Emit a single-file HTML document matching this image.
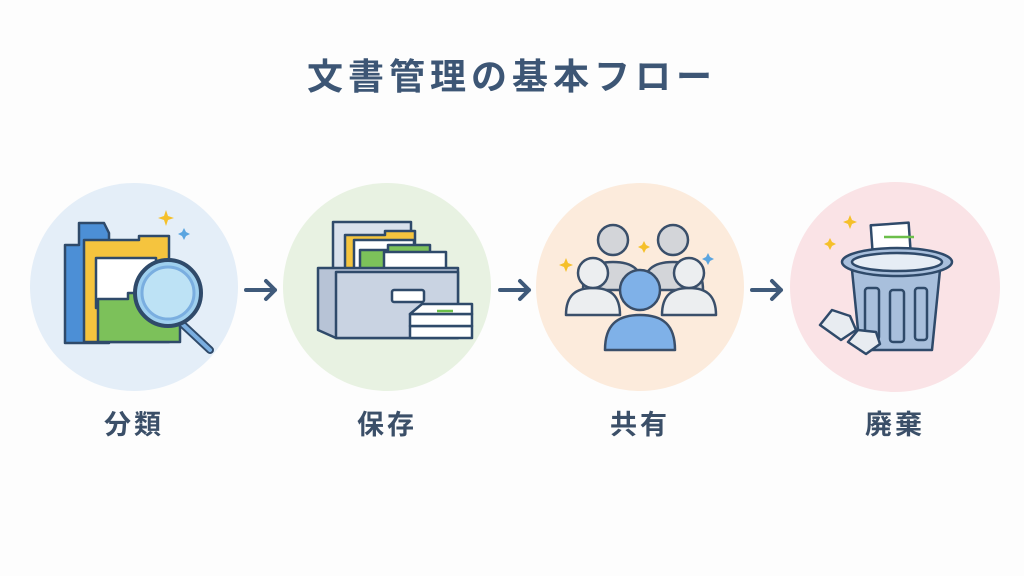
<!DOCTYPE html>
<html><head><meta charset="utf-8"><style>
html,body{margin:0;padding:0;background:#fdfdfd;}
svg{display:block}
text{font-family:"Liberation Sans","Noto Sans CJK JP",sans-serif;font-weight:bold;fill:#3b4f68}
</style></head><body>
<svg width="1024" height="576" viewBox="0 0 1024 576">
<rect width="1024" height="576" fill="#fdfdfd"/>
<text x="512" y="89" font-size="36" text-anchor="middle" letter-spacing="5" style="fill:#3d5675">文書管理の基本フロー</text>
<circle cx="134" cy="287" r="104" fill="#e4eef8"/>
<circle cx="387" cy="287" r="104" fill="#e8f2e2"/>
<circle cx="640" cy="287" r="104" fill="#fcebdc"/>
<circle cx="895" cy="287" r="105" fill="#fae3e6"/>
<g stroke="#3f5a7a" stroke-width="4" fill="none" stroke-linecap="round" stroke-linejoin="round">
<path d="M246 290H275M266 281l9 9-9 9"/>
<path d="M500 290H529M520 281l9 9-9 9"/>
<path d="M752 290H781M772 281l9 9-9 9"/>
</g>
<g stroke="#2f4a6a" stroke-width="2.5" stroke-linejoin="round">
<path d="M65 245h14v-22h25l5 10v110H65z" fill="#4c8fd6"/>
<path d="M84 250v-10h55v-4h30v106H84z" fill="#f5c43e"/>
<rect x="96" y="258" width="60" height="50" fill="#fff"/>
<path d="M98 342v-43h30v-6h52v49z" fill="#7cc15a"/>
<path d="M180 322l30 28" stroke-width="8" stroke-linecap="round"/>
<path d="M180 322l30 28" stroke="#7aaee0" stroke-width="4" stroke-linecap="round"/>
<circle cx="168" cy="293" r="33" fill="#9fd0ef" stroke-width="4"/>
<circle cx="168" cy="293" r="26" fill="#bde2f5" stroke="#7aaee0" stroke-width="3"/>
</g>
<path d="M166 210l2 6 6 2-6 2-2 6-2-6-6-2 6-2z" fill="#f5c02a"/>
<path d="M184 228l2 4 4 2-4 2-2 4-2-4-4-2 4-2z" fill="#5aa5e0"/>
<g stroke="#2f4a6a" stroke-width="2.5" stroke-linejoin="round">
<rect x="333" y="222" width="78" height="60" fill="#d9e1ec"/>
<path d="M345 285v-50h40v-4h30v54z" fill="#f5c43e"/>
<rect x="354" y="240" width="60" height="40" fill="#fff"/>
<path d="M360 285v-35h28v-5h42v40z" fill="#7cc15a"/>
<rect x="384" y="252" width="62" height="20" fill="#fff"/>
<path d="M318 268h140v70H336l-18-8z" fill="#b7c3d6"/>
<rect x="336" y="272" width="122" height="66" fill="#c9d3e2"/>
<rect x="392" y="290" width="32" height="12" rx="2" fill="#fff"/>
<rect x="410" y="326" width="62" height="12" fill="#fff"/>
<rect x="410" y="314" width="62" height="12" fill="#fff"/>
<path d="M410 314l12-10h50v10z" fill="#fff"/>
</g>
<path d="M437 311h16" stroke="#6cbf4a" stroke-width="2.5"/>
<g stroke="#3a4f6a" stroke-width="2.5" stroke-linejoin="round">
<g fill="#d3d5d9">
<path d="M583 290c0-20 10-28 30-28s30 8 30 28z"/><circle cx="613" cy="240" r="15"/>
<path d="M643 290c0-20 10-28 30-28s30 8 30 28z"/><circle cx="673" cy="240" r="15"/>
</g>
<g fill="#eceef0">
<path d="M566 315c0-20 10-27 27-27s27 7 27 27z"/><circle cx="593" cy="273" r="15"/>
<path d="M662 315c0-20 10-27 27-27s27 7 27 27z"/><circle cx="689" cy="273" r="15"/>
</g>
<path d="M605 350c0-25 12-35 35-35s35 10 35 35z" fill="#7fb1e8"/>
<circle cx="640" cy="290" r="20" fill="#7fb1e8"/>
</g>
<path d="M566 258l2 5 5 2-5 2-2 5-2-5-5-2 5-2z" fill="#f5c02a"/>
<path d="M644 241l2 4 4 2-4 2-2 4-2-4-4-2 4-2z" fill="#f5c02a"/>
<path d="M708 253l2 4 4 2-4 2-2 4-2-4-4-2 4-2z" fill="#5aa5e0"/>
<g stroke="#2f4a6a" stroke-width="2.5" stroke-linejoin="round">
<path d="M852 270l8 80h72l8-80z" fill="#a8bfdc"/>
<rect x="872" y="224" width="38" height="38" fill="#fff" transform="rotate(-4 890 243)"/>
<ellipse cx="897" cy="262" rx="55" ry="14" fill="#a8bfdc"/>
<ellipse cx="897" cy="262" rx="45" ry="9" fill="#e6edf5"/>
<rect x="865" y="288" width="14" height="52" rx="3" fill="#a8bfdc"/>
<rect x="890" y="290" width="14" height="52" rx="3" fill="#a8bfdc"/>
<rect x="915" y="288" width="12" height="52" rx="3" fill="#a8bfdc"/>
<path d="M820 325l12-15 18 6 6 14-15 10z" fill="#e8ecf1"/>
<path d="M848 342l10-12 18 2 4 12-14 10z" fill="#e8ecf1"/>
</g>
<path d="M884 237h30" stroke="#6cbf4a" stroke-width="2.5"/>
<path d="M850 215l2 5 5 2-5 2-2 5-2-5-5-2 5-2z" fill="#f5c02a"/>
<path d="M830 238l2 4 4 2-4 2-2 4-2-4-4-2 4-2z" fill="#f5c02a"/>
<text x="134" y="434" font-size="27" text-anchor="middle" letter-spacing="3">分類</text>
<text x="387" y="434" font-size="27" text-anchor="middle" letter-spacing="3">保存</text>
<text x="640" y="434" font-size="27" text-anchor="middle" letter-spacing="3">共有</text>
<text x="895" y="434" font-size="27" text-anchor="middle" letter-spacing="3">廃棄</text>
</svg>
</body></html>
